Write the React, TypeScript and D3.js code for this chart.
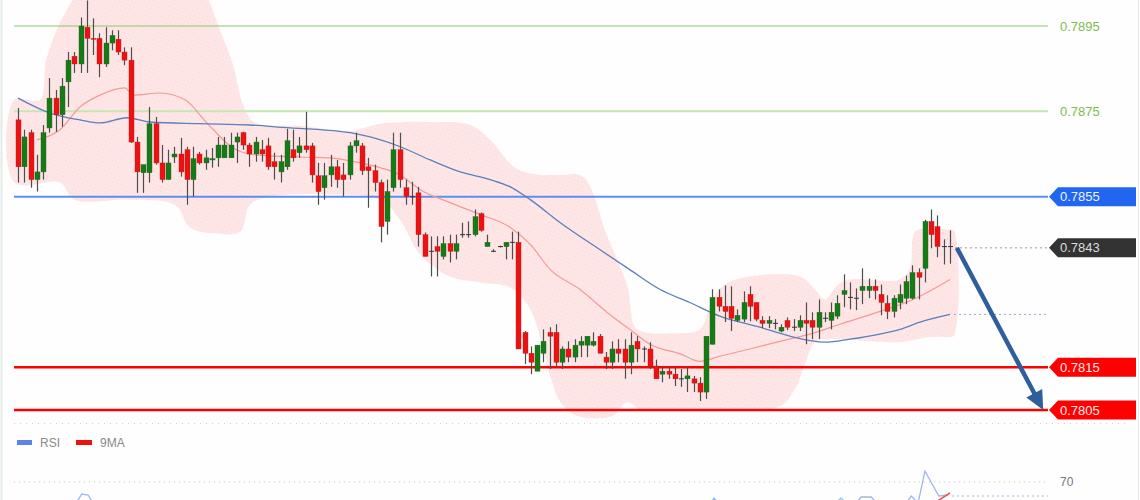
import React from 'react';
import * as d3 from 'd3';

// ---------- Candles (150 bars) ----------
const openP = [0.78730,0.78620,0.78700,0.78590,0.78608,0.78711,0.78781,0.78742,0.78819,0.78879,0.78861,0.78947,0.78921,0.78921,0.78861,0.78910,0.78919,0.78889,0.78870,0.78678,
0.78606,0.78606,0.78721,0.78629,0.78590,0.78643,0.78650,0.78660,0.78590,0.78650,0.78629,0.78636,0.78641,0.78641,0.78641,0.78678,0.78700,0.78671,0.78650,0.78660,
0.78669,0.78632,0.78608,0.78620,0.78660,0.78653,0.78669,0.78669,0.78599,0.78571,0.78601,0.78620,0.78601,0.78601,0.78669,0.78669,0.78620,0.78611,0.78583,0.78492,
0.78571,0.78660,0.78571,0.78550,0.78559,0.78461,0.78422,0.78433,0.78410,0.78440,0.78422,0.78461,0.78461,0.78461,0.78510,0.78433,0.78422,0.78433,0.78433,0.78443,
0.78443,0.78232,0.78183,0.78141,0.78183,0.78232,0.78232,0.78162,0.78193,0.78174,0.78202,0.78202,0.78202,0.78223,0.78174,0.78162,0.78193,0.78193,0.78162,0.78211,
0.78193,0.78193,0.78153,0.78134,0.78141,0.78134,0.78123,0.78123,0.78123,0.78113,0.78092,0.78204,0.78314,0.78293,0.78293,0.78260,0.78263,0.78321,0.78302,0.78260,
0.78253,0.78253,0.78235,0.78260,0.78244,0.78244,0.78260,0.78260,0.78244,0.78265,0.78260,0.78270,0.78321,0.78314,0.78312,0.78330,0.78330,0.78340,0.78321,0.78300,
0.78281,0.78302,0.78312,0.78312,0.78372,0.78382,0.78492,0.78480,0.78433,0.78433];
const highP = [0.78758,0.78707,0.78707,0.78648,0.78718,0.78828,0.78800,0.78828,0.78889,0.78889,0.78970,0.79010,0.78968,0.78933,0.78947,0.78940,0.78940,0.78900,0.78900,0.78690,
0.78625,0.78760,0.78737,0.78671,0.78660,0.78667,0.78688,0.78667,0.78667,0.78655,0.78660,0.78664,0.78690,0.78690,0.78700,0.78700,0.78702,0.78676,0.78690,0.78683,
0.78688,0.78653,0.78648,0.78709,0.78707,0.78690,0.78749,0.78676,0.78629,0.78629,0.78648,0.78636,0.78629,0.78678,0.78700,0.78676,0.78641,0.78625,0.78590,0.78590,
0.78700,0.78700,0.78590,0.78585,0.78573,0.78466,0.78457,0.78457,0.78457,0.78461,0.78461,0.78489,0.78492,0.78520,0.78513,0.78461,0.78427,0.78435,0.78443,0.78468,
0.78468,0.78235,0.78199,0.78202,0.78239,0.78244,0.78251,0.78199,0.78211,0.78216,0.78223,0.78223,0.78232,0.78228,0.78186,0.78211,0.78216,0.78216,0.78232,0.78223,
0.78199,0.78209,0.78168,0.78153,0.78151,0.78151,0.78146,0.78151,0.78130,0.78127,0.78223,0.78333,0.78333,0.78342,0.78340,0.78286,0.78328,0.78340,0.78302,0.78270,
0.78270,0.78263,0.78251,0.78267,0.78263,0.78272,0.78302,0.78279,0.78309,0.78279,0.78302,0.78319,0.78368,0.78349,0.78335,0.78382,0.78358,0.78356,0.78344,0.78319,
0.78319,0.78344,0.78365,0.78389,0.78382,0.78496,0.78520,0.78506,0.78450,0.78471];
const lowP = [0.78583,0.78583,0.78571,0.78562,0.78590,0.78700,0.78702,0.78714,0.78760,0.78840,0.78840,0.78840,0.78882,0.78830,0.78854,0.78893,0.78882,0.78858,0.78676,0.78559,
0.78559,0.78583,0.78625,0.78583,0.78590,0.78629,0.78597,0.78531,0.78550,0.78625,0.78613,0.78618,0.78620,0.78641,0.78641,0.78629,0.78660,0.78620,0.78632,0.78632,
0.78613,0.78590,0.78583,0.78613,0.78632,0.78641,0.78653,0.78583,0.78531,0.78543,0.78573,0.78571,0.78550,0.78590,0.78653,0.78601,0.78524,0.78562,0.78443,0.78461,
0.78562,0.78571,0.78531,0.78531,0.78433,0.78410,0.78363,0.78363,0.78403,0.78396,0.78403,0.78454,0.78454,0.78457,0.78468,0.78433,0.78420,0.78431,0.78403,0.78403,
0.78193,0.78158,0.78134,0.78141,0.78162,0.78146,0.78153,0.78146,0.78162,0.78162,0.78174,0.78174,0.78199,0.78183,0.78146,0.78146,0.78162,0.78123,0.78134,0.78162,
0.78162,0.78146,0.78123,0.78115,0.78123,0.78106,0.78104,0.78092,0.78092,0.78071,0.78076,0.78204,0.78281,0.78256,0.78235,0.78256,0.78256,0.78258,0.78258,0.78242,
0.78242,0.78239,0.78232,0.78237,0.78235,0.78235,0.78204,0.78216,0.78216,0.78256,0.78239,0.78263,0.78291,0.78286,0.78284,0.78298,0.78312,0.78309,0.78272,0.78263,
0.78267,0.78286,0.78298,0.78309,0.78309,0.78349,0.78429,0.78408,0.78391,0.78393];
const closeP = [0.78620,0.78690,0.78590,0.78608,0.78700,0.78781,0.78742,0.78809,0.78870,0.78861,0.78950,0.78921,0.78919,0.78861,0.78910,0.78928,0.78889,0.78870,0.78678,0.78608,
0.78625,0.78721,0.78629,0.78590,0.78629,0.78650,0.78608,0.78590,0.78639,0.78629,0.78641,0.78639,0.78671,0.78671,0.78671,0.78690,0.78671,0.78650,0.78678,0.78650,
0.78620,0.78620,0.78632,0.78681,0.78641,0.78669,0.78660,0.78601,0.78562,0.78599,0.78620,0.78590,0.78590,0.78669,0.78681,0.78611,0.78611,0.78583,0.78480,0.78562,
0.78660,0.78590,0.78550,0.78550,0.78461,0.78410,0.78422,0.78422,0.78440,0.78422,0.78440,0.78461,0.78461,0.78503,0.78471,0.78443,0.78422,0.78433,0.78443,0.78443,
0.78193,0.78183,0.78162,0.78202,0.78211,0.78223,0.78162,0.78193,0.78174,0.78202,0.78211,0.78223,0.78211,0.78183,0.78162,0.78193,0.78183,0.78162,0.78202,0.78193,
0.78193,0.78153,0.78123,0.78141,0.78134,0.78123,0.78123,0.78130,0.78113,0.78092,0.78223,0.78314,0.78293,0.78281,0.78265,0.78272,0.78302,0.78293,0.78263,0.78253,
0.78260,0.78253,0.78244,0.78244,0.78244,0.78260,0.78253,0.78244,0.78279,0.78265,0.78279,0.78300,0.78330,0.78314,0.78312,0.78340,0.78340,0.78330,0.78302,0.78281,
0.78312,0.78321,0.78351,0.78372,0.78361,0.78492,0.78461,0.78433,0.78433,0.78433];

// ---------- Bollinger envelope (bar index, price) ----------
const upperIdx = [-0.6,3.5,4.5,7.5,11.5,21,29,32.3,34.4,36,37.9,45,53,57.9,65.9,72.3,75.5,79.5,83.5,86.7,90.3,94.2,97.4,98.6,100,104.2,109,111,113,117,125,127.4,129,131.1,133,141,142.6,143.4,145.8,148.6,149.6];
const upperP = [0.78777,0.78777,0.78870,0.78980,0.79057,0.79104,0.79045,0.78940,0.78858,0.78765,0.78723,0.78716,0.78704,0.78721,0.78725,0.78718,0.78683,0.78618,0.78601,0.78601,0.78597,0.78457,0.78340,0.78245,0.78233,0.78230,0.78239,0.78309,0.78344,0.78363,0.78363,0.78333,0.78309,0.78344,0.78356,0.78356,0.78384,0.78468,0.78475,0.78473,0.78470];
const lowerIdx = [-0.6,6.7,9,17.9,25.1,27.5,31.5,35.5,37.1,40.3,49.9,57.9,61.1,64.3,69.1,73.9,78.7,81.9,85.1,86.7,89.5,95,97.4,99.4,109,121.8,124.2,125.8,127.4,129.8,141,145.8,148.6,149.6];
const lowerP = [0.78583,0.78583,0.78543,0.78543,0.78531,0.78478,0.78464,0.78468,0.78531,0.78550,0.78555,0.78543,0.78496,0.78414,0.78363,0.78349,0.78337,0.78286,0.78129,0.78069,0.78036,0.78036,0.78069,0.78052,0.78052,0.78059,0.78099,0.78157,0.78209,0.78216,0.78209,0.78221,0.78221,0.78224];

// middle band (salmon)
const midIdx = [3.0,6.7,9.9,13.1,17.1,18.4,22.7,26.7,30.2,34.4,37.9,45.1,49.9,54.7,57.9,61.1,64.3,69.1,73.9,78.7,81.9,85.1,89.8,94.6,97.8,101,106,109,112.2,117,121.8,126.6,131.4,137.8,143.1,149];
const midP = [0.78683,0.78707,0.78760,0.78788,0.78805,0.78788,0.78793,0.78777,0.78723,0.78664,0.78648,0.78643,0.78641,0.78629,0.78618,0.78601,0.78566,0.78536,0.78508,0.78478,0.78438,0.78379,0.78333,0.78274,0.78239,0.78204,0.78181,0.78164,0.78176,0.78193,0.78211,0.78228,0.78251,0.78281,0.78309,0.78356];

// slow moving average (blue)
const maIdx = [0,5.1,9.9,13.1,17.4,21.1,29.1,37.1,43.5,48.3,53.1,56.3,61.1,65.9,70.7,75.5,78.7,81.9,86.7,93,97.8,102.6,107.4,112.2,118.6,123.4,129,133,137.8,141,144.2,149];
const maP = [0.78781,0.78746,0.78730,0.78723,0.78735,0.78725,0.78721,0.78718,0.78711,0.78707,0.78700,0.78690,0.78667,0.78636,0.78608,0.78590,0.78573,0.78543,0.78489,0.78426,0.78379,0.78333,0.78302,0.78270,0.78244,0.78223,0.78209,0.78216,0.78228,0.78239,0.78256,0.78274];

// ---------- Levels ----------
const resistLevels = [0.7895, 0.7875];
const resistLabels = ['0.7895', '0.7875'];
const pivotLevel = 0.7855;
const supportLevels = [0.7815, 0.7805];
const supportLabels = ['0.7815', '0.7805'];
const lastPrice = 0.7843;
const arrowFrom = { idx: 150.1, price: 0.7843 };
const arrowTo = { idx: 163.9, price: 0.7805 };

// ---------- RSI panel ----------
const rsiIdx = [-1,4,8,9.4,10.2,11.2,12.3,14,20,30,50,70,90,105,109.8,111.3,112.8,120,129,131.6,133.3,134.8,136.4,138,142,142.8,143.9,145,147.2,148.7];
const rsiVal = [48,52,56,60,64,63.5,58,52,40,45,42,35,30,38,56,62,56,50,55,62,57,62.5,62.5,57,59.5,63,59.5,75.5,63,63.5];
const maRsiIdx = [145.8,147,149];
const maRsiVal = [58,60.5,64.5];
const rsiLevel = 70;
const rsiLast = 63;

export default function App() {
  const W = 1140, H = 500;
  const x = d3.scaleLinear().domain([0, 149]).range([18, 950]);
  const y = d3.scaleLinear().domain([0.7805, 0.7895]).range([410, 26]);
  const ry = d3.scaleLinear().domain([30, 70]).range([562, 482]);
  const lineLeft = 14, lineRight = 1048, labelRight = 1136;
  const font = "'Liberation Sans', Arial, Helvetica, sans-serif";

  const bandPts: [number, number][] = [
    ...upperIdx.map((d, i) => [x(d), y(upperP[i])] as [number, number]),
    ...lowerIdx.map((d, i) => [x(d), y(lowerP[i])] as [number, number]).reverse(),
  ];
  const bandPath = d3.line().curve(d3.curveCatmullRomClosed.alpha(0.5))(bandPts) || '';
  const lineGen = d3.line<[number, number]>().curve(d3.curveMonotoneX);
  const midPath = lineGen(midIdx.map((d, i) => [x(d), y(midP[i])])) || '';
  const maPath = lineGen(maIdx.map((d, i) => [x(d), y(maP[i])])) || '';
  const rsiPath = d3.line<[number, number]>()(rsiIdx.map((d, i) => [x(d), ry(rsiVal[i])])) || '';
  const rsiMaPath = d3.line<[number, number]>()(maRsiIdx.map((d, i) => [x(d), ry(maRsiVal[i])])) || '';

  const tag = (yy: number) => {
    const h = 9.5;
    return `M${lineRight + 1},${yy} L${lineRight + 10},${yy - h} L${labelRight},${yy - h} L${labelRight},${yy + h} L${lineRight + 10},${yy + h} Z`;
  };

  // arrow
  const ax0 = x(arrowFrom.idx), ay0 = y(arrowFrom.price);
  const ax1 = x(arrowTo.idx), ay1 = y(arrowTo.price);
  const dx = ax1 - ax0, dy = ay1 - ay0, len = Math.hypot(dx, dy);
  const ux = dx / len, uy = dy / len;
  const headL = 19, headW = 9;
  const bx = ax1 - ux * headL, by = ay1 - uy * headL;
  const head = `M${ax1},${ay1} L${bx - uy * headW},${by + ux * headW} L${bx + uy * headW},${by - ux * headW} Z`;

  const bw = 5;
  const lastRsiMaX = x(maRsiIdx[maRsiIdx.length - 1]);

  return (
    <svg width={W} height={H} style={{ position: 'absolute', left: 0, top: 0, background: '#fefefe' }} fontFamily={font}>
      <defs>
        <pattern id="dots" width="4" height="4" patternUnits="userSpaceOnUse" patternTransform="rotate(20)">
          <rect width="4" height="4" fill="#fee6e6" />
          <rect x="0" y="0" width="1" height="1" fill="#f9d6d6" />
        </pattern>
        <clipPath id="rsiClip"><rect x={0} y={424} width={W} height={H - 424} /></clipPath>
      </defs>
      <rect x={0} y={0} width={W} height={H} fill="#fefefe" />
      <line x1={1.5} x2={1.5} y1={0} y2={H} stroke="#e4ebe4" strokeWidth={2} />
      <line x1={1138.5} x2={1138.5} y1={0} y2={H} stroke="#e6e6e6" strokeWidth={1} />

      {/* envelope */}
      <path d={bandPath} fill="url(#dots)" stroke="none" />

      {/* horizontal levels */}
      <line x1={lineLeft} x2={lineRight} y1={y(resistLevels[0])} y2={y(resistLevels[0])} stroke="#8cc866" strokeWidth={1} />
      <line x1={lineLeft} x2={lineRight} y1={y(resistLevels[1])} y2={y(resistLevels[1])} stroke="#c6e6b3" strokeWidth={2} />
      <line x1={lineLeft} x2={lineRight} y1={y(pivotLevel)} y2={y(pivotLevel)} stroke="#5b8ff0" strokeWidth={2} />
      {supportLevels.map((lv, i) => (
        <line key={i} x1={lineLeft} x2={lineRight} y1={y(lv)} y2={y(lv)} stroke="#ff0000" strokeWidth={2.5} />
      ))}

      {/* MA lines */}
      <path d={midPath} fill="none" stroke="#f39a96" strokeWidth={1.2} />
      <path d={maPath} fill="none" stroke="#5a80bd" strokeWidth={1.3} />
      <line x1={x(maIdx[maIdx.length - 1]) + 4} x2={lineRight} y1={y(maP[maP.length - 1])} y2={y(maP[maP.length - 1])} stroke="#8fa8d8" strokeWidth={1} strokeDasharray="2,3" />
      <line x1={x(149) + 5} x2={lineRight} y1={y(lastPrice)} y2={y(lastPrice)} stroke="#9a9a9a" strokeWidth={1} strokeDasharray="2,3" />

      {/* candles */}
      {openP.map((o, i) => {
        const c = closeP[i];
        const cx = Math.round(x(i)) + 0.5;
        const up = c > o, flat = c === o;
        const col = flat ? '#333' : up ? '#157c15' : '#ee1111';
        const top = y(Math.max(o, c)), bot = y(Math.min(o, c));
        return (
          <g key={i}>
            <line x1={cx} x2={cx} y1={y(highP[i])} y2={y(lowP[i])} stroke="#4d4d4d" strokeWidth={1.2} />
            <rect x={cx - bw / 2} y={flat ? top - 0.5 : top} width={bw} height={Math.max(1, bot - top)} fill={col} stroke={flat ? 'none' : up ? '#2b5d2b' : '#b52020'} strokeWidth={0.4} />
          </g>
        );
      })}

      {/* arrow */}
      <line x1={ax0} y1={ay0} x2={bx + ux * 2} y2={by + uy * 2} stroke="#2e5f9c" strokeWidth={4.5} />
      <path d={head} fill="#2e5f9c" />

      {/* level labels */}
      {resistLevels.map((lv, i) => (
        <text key={i} x={1060} y={y(lv)} dy="0.35em" fontSize={13} fill="#7fbd4f">{resistLabels[i]}</text>
      ))}
      <path d={tag(y(pivotLevel))} fill="#2166f0" />
      <text x={1060} y={y(pivotLevel)} dy="0.35em" fontSize={13} fill="#eef2ff">{pivotLevel.toFixed(4)}</text>
      <path d={tag(y(lastPrice))} fill="#333333" />
      <text x={1060} y={y(lastPrice)} dy="0.35em" fontSize={13} fill="#dddddd">{lastPrice.toFixed(4)}</text>
      {supportLevels.map((lv, i) => (
        <g key={i}>
          <path d={tag(y(lv))} fill="#ff0000" />
          <text x={1060} y={y(lv)} dy="0.35em" fontSize={13} fill="#ffe8e8">{supportLabels[i]}</text>
        </g>
      ))}

      {/* RSI panel */}
      <line x1={lineLeft} x2={1130} y1={423.5} y2={423.5} stroke="#cfcfcf" strokeWidth={1} strokeDasharray="1,5" />
      <rect x={17} y={440} width={15} height={5} fill="#5b84e6" />
      <text x={40} y={447} fontSize={12} fill="#8a8a8a">RSI</text>
      <rect x={76} y={440} width={16} height={5} fill="#ee1111" />
      <text x={100} y={447} fontSize={12} fill="#8a8a8a">9MA</text>
      <line x1={lineLeft} x2={lineRight} y1={ry(rsiLevel)} y2={ry(rsiLevel)} stroke="#c8c8c8" strokeWidth={1} strokeDasharray="1,4" />
      <text x={1060} y={ry(rsiLevel)} dy="0.35em" fontSize={12} fill="#777">{rsiLevel}</text>
      <g clipPath="url(#rsiClip)">
        <path d={rsiPath} fill="none" stroke="#9fb6ee" strokeWidth={1.3} />
        <path d={rsiMaPath} fill="none" stroke="#f05555" strokeWidth={1.6} />
        <line x1={lastRsiMaX + 2} x2={lineRight} y1={ry(rsiLast)} y2={ry(rsiLast)} stroke="#9fb6ee" strokeWidth={1} strokeDasharray="2,3" />
      </g>
    </svg>
  );
}
